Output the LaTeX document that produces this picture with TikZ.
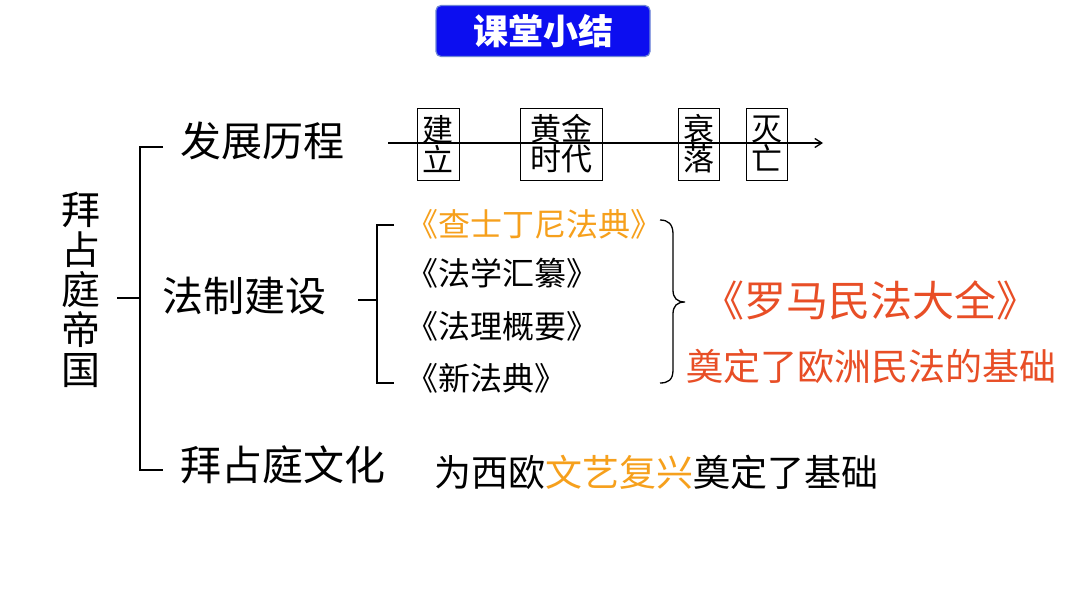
\documentclass[tikz,border=0pt]{standalone}
\usepackage{fontspec}
\setmainfont{Noto Sans CJK SC}
\usetikzlibrary{arrows.meta}
\definecolor{titleblue}{RGB}{12,14,240}
\definecolor{titleedge}{RGB}{110,134,214}
\definecolor{orangetxt}{RGB}{246,160,28}
\definecolor{redtxt}{RGB}{232,78,38}
\tikzset{
  txt/.style={inner sep=0pt, outer sep=0pt},
  stagebox/.style={draw, line width=1pt, inner sep=0pt, minimum height=72pt, align=center, font=\fontsize{31}{30}\selectfont},
  conn/.style={line width=1.3pt},
}
\begin{document}
\begin{tikzpicture}[x=1pt,y=-1pt]
\useasboundingbox[fill=white] (0,0) rectangle (1080,597);
% title
\node[txt, fill=titleblue, draw=titleedge, line width=1.2pt, rounded corners=5pt, minimum width=214pt, minimum height=51pt,
      text=white, font=\fontsize{35}{36}\selectfont\bfseries] (title) at (543,31) {课堂小结};
% root
\node[txt, align=center, font=\fontsize{39}{40}\selectfont] (root) at (81,290) {拜\\占\\庭\\帝\\国};
% branches
\node[txt, anchor=west, font=\fontsize{41}{42}\selectfont] (b1) at (180,141) {发展历程};
\node[txt, anchor=west, font=\fontsize{41}{42}\selectfont] (b2) at (162,296) {法制建设};
\node[txt, anchor=west, font=\fontsize{41}{42}\selectfont] (b3) at (180,465) {拜占庭文化};
% left bracket
\coordinate (lj) at (117,298);
\coordinate (lm) at (140,298);
\coordinate (lt) at (140,147);
\coordinate (lb) at (140,470);
\coordinate (lt2) at (163,147);
\coordinate (lb2) at (163,470);
\draw[conn] (lj) -- (lm);
\draw[conn] (lt2) -- (lt) -- (lb) -- (lb2);
% timeline
\node[stagebox, minimum width=42pt] (s1) at (438,144) {建\\立};
\node[stagebox, minimum width=82pt] (s2) at (561,144) {黄金\\时代};
\node[stagebox, minimum width=41pt] (s3) at (698.5,144) {衰\\落};
\node[stagebox, minimum width=41pt] (s4) at (766.5,144) {灭\\亡};
\coordinate (ts) at (388,143);
\coordinate (te) at (823,143);
\draw[line width=1.3pt, -{Straight Barb[length=7pt,width=9pt]}] (ts) -- (te);
% law codes
\node[txt, anchor=west, text=orangetxt, font=\fontsize{32}{33}\selectfont] (c1) at (406,224) {《查士丁尼法典》};
\node[txt, anchor=west, font=\fontsize{32}{33}\selectfont] (c2) at (406,273) {《法学汇纂》};
\node[txt, anchor=west, font=\fontsize{32}{33}\selectfont] (c3) at (406,326) {《法理概要》};
\node[txt, anchor=west, font=\fontsize{32}{33}\selectfont] (c4) at (406,378) {《新法典》};
% middle bracket
\coordinate (mj) at (358,300);
\coordinate (mm) at (377,300);
\coordinate (mt) at (377,225);
\coordinate (mb) at (377,383);
\coordinate (mt2) at (394,225);
\coordinate (mb2) at (394,383);
\draw[conn] (mj) -- (mm);
\draw[conn] (mt2) -- (mt) -- (mb) -- (mb2);
% right brace
\coordinate (rt) at (660,220);
\coordinate (rb) at (660,383);
\coordinate (rtip) at (685,302);
\draw[conn] (rt) .. controls (668,220) and (673,224) .. (673,234)
  -- (673,290) .. controls (673,298) and (677,302) .. (rtip)
  .. controls (677,302) and (673,306) .. (673,314)
  -- (673,370) .. controls (673,380) and (668,383) .. (rb);
% results
\node[txt, text=redtxt, font=\fontsize{42}{43}\selectfont] (r1) at (870,300) {《罗马民法大全》};
\node[txt, text=redtxt, font=\fontsize{37}{38}\selectfont] (r2) at (871,366) {奠定了欧洲民法的基础};
% culture
\node[txt, anchor=west, font=\fontsize{37}{38}\selectfont] (cul) at (434,472) {为西欧\textcolor{orangetxt}{文艺复兴}奠定了基础};
\end{tikzpicture}
\end{document}
